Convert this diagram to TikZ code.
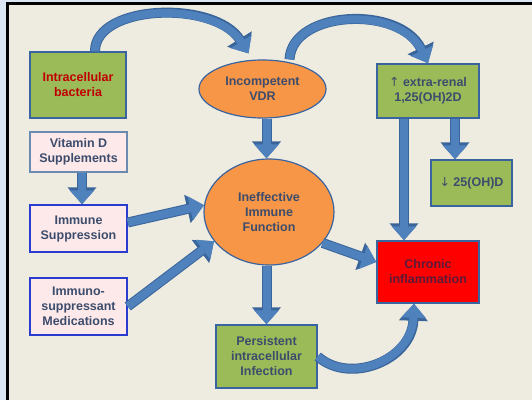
\documentclass[tikz,border=0pt]{standalone}
\usepackage{fontspec}
\setmainfont{Liberation Sans}
\newfontfamily\arrowfont{DejaVu Sans}
\usetikzlibrary{arrows.meta}
\usetikzlibrary{shapes.geometric}

\definecolor{frameblue}{HTML}{DCE6F2}
\definecolor{paper}{HTML}{EEECE1}
\definecolor{leafgreen}{HTML}{9BBB59}
\definecolor{pinkfill}{HTML}{FDE9E9}
\definecolor{orangefill}{HTML}{F79646}
\definecolor{edgeblue}{HTML}{3A64A0}
\definecolor{brightblue}{HTML}{2A3CD0}
\definecolor{softblue}{HTML}{6A8AB0}
\definecolor{arrowfill}{HTML}{4F81BD}
\definecolor{arrowline}{HTML}{3A659A}
\definecolor{inkblue}{HTML}{3C4C6C}
\definecolor{bactred}{HTML}{C00000}
\definecolor{maroon}{HTML}{5A1A3A}

\tikzset{
  box/.style={rectangle, line width=1.5pt, inner sep=0pt, align=center,
    text=inkblue, font=\bfseries\fontsize{12.5}{15}\selectfont},
  greenbox/.style={box, fill=leafgreen, draw=edgeblue},
  pinkbox/.style={box, fill=pinkfill, draw=brightblue},
  redbox/.style={box, fill=red, draw=edgeblue, text=maroon},
  oval/.style={box, ellipse, fill=orangefill, draw=edgeblue, line width=1.2pt},
  flow/.style={draw=arrowfill, line width=8pt, -{Triangle[width=24pt,length=14pt]},
    preaction={draw=arrowline, line width=10pt, -{Triangle[width=28pt,length=17pt]}}},
}

\begin{document}
\begin{tikzpicture}[x=1pt,y=-1pt]
\useasboundingbox (0,0) rectangle (532,400);

% frame
\fill[frameblue] (0,0) rectangle (532,400);
\fill[paper] (7,3.5) rectangle (532,400);
\draw[black, line width=2.5pt] (7.5,400) -- (7.5,3.5) -- (532,3.5);

% boxes
\node[greenbox, minimum width=96pt, minimum height=66pt, text=bactred] (bact) at (78,85) {Intracellular\\bacteria};
\node[oval, minimum width=127pt, minimum height=58pt] (vdr) at (262.5,89) {Incompetent\\VDR};
\node[greenbox, minimum width=102pt, minimum height=54pt] (xr) at (428,91) {{\arrowfont\mdseries ↑} extra-renal\\1,25(OH)2D};
\node[greenbox, minimum width=81pt, minimum height=46pt] (low) at (471.5,183) {{\arrowfont\mdseries ↓} 25(OH)D};
\node[pinkbox, draw=softblue, minimum width=97pt, minimum height=40pt] (vitd) at (78.5,152) {Vitamin D\\Supplements};
\node[pinkbox, minimum width=97pt, minimum height=47pt] (immsup) at (78.5,228.5) {Immune\\Suppression};
\node[pinkbox, minimum width=97pt, minimum height=57pt] (immmed) at (78.5,306.5) {Immuno-\\suppressant\\Medications};
\node[oval, minimum width=130pt, minimum height=106pt] (ineff) at (269,212) {Ineffective\\Immune\\Function};
\node[redbox, minimum width=102pt, minimum height=62pt] (chronic) at (428,272) {Chronic\\inflammation};
\node[greenbox, minimum width=101pt, minimum height=63pt] (persist) at (266.5,356.5) {Persistent\\intracellular\\Infection};

% curved arrows
\draw[flow] ([xshift=17pt]bact.north) .. controls (95,4) and (215,0) .. ([xshift=-14pt,yshift=6pt]vdr.north);
\draw[flow] ([xshift=27pt]vdr.north) .. controls (292,10) and (400,5) .. (xr.north);
\draw[flow] (persist.east) .. controls (350,385) and (412,360) .. ([xshift=-14pt]chronic.south);

% straight arrows
\draw[flow] ([xshift=4pt]vdr.south) -- ([xshift=-2.5pt]ineff.north);
\draw[flow] ([xshift=27pt]xr.south) -- ([xshift=-16.5pt]low.north);
\draw[flow] ([xshift=-24pt]xr.south) -- ([xshift=-24pt]chronic.north);
\draw[flow] ([xshift=3.5pt]vitd.south) -- ([xshift=3.5pt]immsup.north);
\draw[flow] ([yshift=6pt]immsup.east) -- (ineff.174);
\draw[flow] (immmed.east) -- (ineff.208);
\draw[flow] (ineff.-30) -- ([yshift=10pt]chronic.west);
\draw[flow] ([xshift=-2.5pt]ineff.south) -- (persist.north);
\end{tikzpicture}
\end{document}
